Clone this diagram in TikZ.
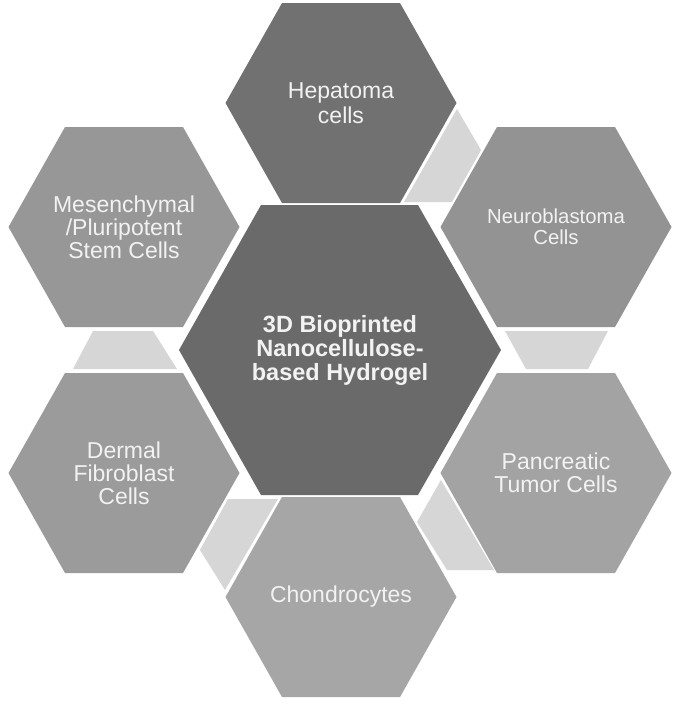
\documentclass[tikz,border=0pt]{standalone}
\usepackage{fontspec}
\setmainfont{Liberation Sans}
\definecolor{cHep}{HTML}{717171}
\definecolor{cCen}{HTML}{6A6A6A}
\definecolor{cMes}{HTML}{979797}
\definecolor{cNeu}{HTML}{939393}
\definecolor{cDer}{HTML}{9B9B9B}
\definecolor{cPan}{HTML}{A3A3A3}
\definecolor{cCho}{HTML}{A6A6A6}
\definecolor{cLink}{HTML}{D6D6D6}
\definecolor{cTxt}{HTML}{F2F2F2}
\begin{document}
\begin{tikzpicture}[x=1pt,y=-1pt,
  lbl/.style={text=cTxt,align=center,inner sep=0pt,font=\fontsize{23}{23}\selectfont},
  lblwide/.style={lbl,font=\fontsize{23}{25}\selectfont},
  lblsmall/.style={lbl,font=\fontsize{20.3}{21}\selectfont},
  lblbold/.style={lbl,font=\fontsize{23.5}{24}\selectfont\bfseries},
  link/.style={fill=cLink},
  outerhex/.pic={\path[pic actions] (-115.5,0) -- (-59,-100) -- (59,-100) -- (115.5,0) -- (59,100) -- (-59,100) -- cycle;}
]
\useasboundingbox (0,0) rectangle (680,704);
\fill[white] (0,0) rectangle (680,704);
% light connector pieces
\fill[link] (457,109) -- (481,150) -- (452,202) -- (404,202) -- cycle;
\fill[link] (505,331) -- (608,331) -- (588,369) -- (526,369) -- cycle;
\fill[link] (441,480) -- (417,522) -- (447,570) -- (494,570) -- cycle;
\fill[link] (228,499) -- (278,499) -- (225,590) -- (200,550) -- cycle;
\fill[link] (93,331) -- (153,331) -- (177,369) -- (73,369) -- cycle;
% hexagons
\pic[fill=cHep] at (341,103) {outerhex};
\pic[fill=cMes] at (124,227) {outerhex};
\pic[fill=cNeu] at (556,227) {outerhex};
\pic[fill=cDer] at (124,473) {outerhex};
\pic[fill=cPan] at (556,473) {outerhex};
\pic[fill=cCho] at (341,597) {outerhex};
\fill[cCen] (179,350) -- (261,205) -- (418,205) -- (501,350) -- (418,495) -- (261,495) -- cycle;
% labels
\node[lblbold] (center) at (340,350) {3D Bioprinted\\Nanocellulose-\\based Hydrogel};
\node[lblwide] (hep) at (341,103) {Hepatoma\\cells};
\node[lbl] (mes) at (124,227) {Mesenchymal\\/Pluripotent\\Stem Cells};
\node[lblsmall] (neu) at (556,227) {Neuroblastoma\\Cells};
\node[lbl] (der) at (124,473) {Dermal\\Fibroblast\\Cells};
\node[lbl] (pan) at (556,473) {Pancreatic\\Tumor Cells};
\node[lbl] (cho) at (341,597) {Chondrocytes};
\end{tikzpicture}
\end{document}
